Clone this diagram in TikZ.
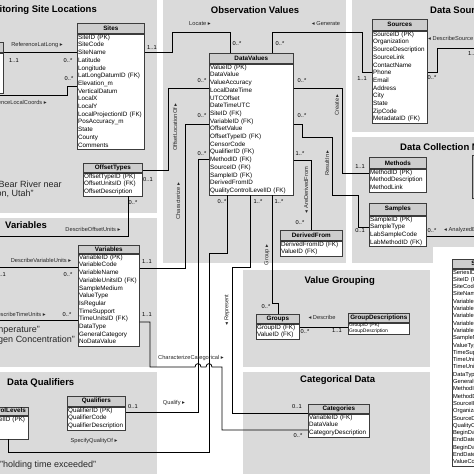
\documentclass[tikz,border=0pt]{standalone}
\usepackage{fontspec}
\setmainfont{Liberation Sans}
\newfontfamily\symf{DejaVu Sans}
\definecolor{panelc}{RGB}{218,218,218}
\definecolor{hdrc}{RGB}{205,205,205}
\definecolor{tline}{RGB}{60,60,60}
\definecolor{lblc}{RGB}{40,40,40}
\newcommand\tbodyf{\fontsize{6.3}{7.7}\selectfont}
\newcommand\thdrf{\bfseries\fontsize{6.3}{7.5}\selectfont}
\newcommand\tcardf{\fontsize{5.7}{6}\selectfont}
\newcommand\tlblf{\fontsize{5.7}{6}\selectfont}
\newcommand\tttlf{\bfseries\fontsize{9.5}{11}\selectfont}
\newcommand\texf{\fontsize{9}{10}\selectfont}
\newcommand\rtri{{\symf ▸}}
\newcommand\ltri{{\symf ◂}}
\newcommand\dbtable[8][]{%
  \node[hdr, minimum width=#5, minimum height=#6] (#2h) at (#3,#4) {#7};
  \node[body, text width=#5-1.6, #1] (#2) at (#2h.south west) {\begin{tabular}{@{}l@{}}#8\end{tabular}};%
}
\begin{document}
\begin{tikzpicture}[x=1pt,y=-1pt,
  hdr/.style={draw=tline, line width=0.6pt, fill=hdrc, font=\thdrf, inner sep=0pt, anchor=north west},
  body/.style={draw=tline, line width=0.6pt, fill=white, font=\tbodyf, inner xsep=0.8pt, inner ysep=0pt, anchor=north west, align=left},
  conn/.style={draw=black, line width=0.8pt},
  card/.style={font=\tcardf, inner sep=0pt},
  lbl/.style={font=\tlblf, inner sep=0pt, text=lblc},
  ttl/.style={font=\tttlf, inner sep=0pt},
  ex/.style={font=\texf, inner sep=0pt, text=black!85}]
\useasboundingbox (0,0) rectangle (474,474);
\clip (0,0) rectangle (474,474);
\fill[white] (0,0) rectangle (474,474);
% panels
\fill[panelc] (0,0) rectangle (157,213);
\fill[panelc] (163,0) rectangle (346,263);
\fill[panelc] (352,0) rectangle (480,132);
\fill[panelc] (352,137) rectangle (480,263);
\fill[white] (433,247) rectangle (480,480);
\fill[panelc] (0,218) rectangle (157,367);
\fill[panelc] (0,372) rectangle (157,480);
\fill[panelc] (243,270) rectangle (430,367);
\fill[panelc] (243,372) rectangle (430,480);
% titles
\node[ttl, anchor=east] at (97,10) {Monitoring Site Locations};
\node[ttl] at (255,10) {Observation Values};
\node[ttl, anchor=west] at (430,10) {Data Sources};
\node[ttl, anchor=west] at (400,147) {Data Collection Methods};
\node[ttl, anchor=west] at (5,225) {Variables};
\node[ttl, anchor=east] at (375,281) {Value Grouping};
\node[ttl, anchor=west] at (7,383) {Data Qualifiers};
\node[ttl, anchor=west] at (300,380) {Categorical Data};
% example texts
\node[ex, anchor=west] at (-26,184) {"Little Bear River near};
\node[ex, anchor=west] at (-26,194) {Mendon, Utah"};
\node[ex, anchor=east] at (40,330) {"Temperature"};
\node[ex, anchor=east] at (75,340) {"Dissolved Oxygen Concentration"};
\node[ex, anchor=west] at (0,465) {"holding time exceeded"};
% tables
\node[hdr, minimum width=30, minimum height=10] (sprefh) at (-27,42) {};
\node[body, minimum width=30, minimum height=40] (spref) at (sprefh.south west) {};
\dbtable{sites}{77}{23}{67}{10}{Sites}{SiteID (PK)\\SiteCode\\SiteName\\Latitude\\Longitude\\LatLongDatumID (FK)\\Elevation\_m\\VerticalDatum\\LocalX\\LocalY\\LocalProjectionID (FK)\\PosAccuracy\_m\\State\\County\\Comments}
\dbtable{dv}{209}{53}{84}{10}{DataValues}{ValueID (PK)\\DataValue\\ValueAccuracy\\LocalDateTime\\UTCOffset\\DateTimeUTC\\SiteID (FK)\\VariableID (FK)\\OffsetValue\\OffsetTypeID (FK)\\CensorCode\\QualifierID (FK)\\MethodID (FK)\\SourceID (FK)\\SampleID (FK)\\DerivedFromID\\QualityControlLevelID (FK)}
\dbtable{src}{372}{19}{55}{11}{Sources}{SourceID (PK)\\Organization\\SourceDescription\\SourceLink\\ContactName\\Phone\\Email\\Address\\City\\State\\ZipCode\\MetadataID (FK)}
\dbtable{meth}{369}{157}{57}{11}{Methods}{MethodID (PK)\\MethodDescription\\MethodLink}
\dbtable{samp}{369}{203}{57}{12}{Samples}{SampleID (PK)\\SampleType\\LabSampleCode\\LabMethodID (FK)}
\dbtable{ot}{83}{163}{59}{9}{OffsetTypes}{OffsetTypeID (PK)\\OffsetUnitsID (FK)\\OffsetDescription}
\dbtable{var}{78}{245}{61}{8}{Variables}{VariableID (PK)\\VariableCode\\VariableName\\VariableUnitsID (FK)\\SampleMedium\\ValueType\\IsRegular\\TimeSupport\\TimeUnitsID (FK)\\DataType\\GeneralCategory\\NoDataValue}
\dbtable{df}{280}{230}{62}{10}{DerivedFrom}{DerivedFromID (FK)\\ValueID (FK)}
\dbtable{grp}{256}{314}{43}{9}{Groups}{GroupID (FK)\\ValueID (FK)}
\dbtable[font=\fontsize{5}{5.8}\selectfont]{gd}{348}{313}{61}{9}{GroupDescriptions}{GroupID (PK)\\GroupDescription}
\dbtable{cat}{308}{404}{61}{9}{Categories}{VariableID (FK)\\DataValue\\CategoryDescription}
\dbtable{qual}{67}{396}{58}{10}{Qualifiers}{QualifierID (PK)\\QualifierCode\\QualifierDescription}
\node[hdr, minimum width=80, minimum height=8] (qclh) at (-52,407) {};
\node[font=\thdrf, inner sep=0pt, anchor=east] at (26,411) {QualityControlLevels};
\node[body, text width=78.4] (qcl) at (qclh.south west) {\begin{tabular}{@{}l@{}}QualityControlLevelID (PK)\\Definition\\Explanation\end{tabular}};
\dbtable[font=\fontsize{5.8}{7.3}\selectfont]{sc}{452}{259}{80}{9}{SeriesCatalog}{SeriesID (PK)\\SiteID (FK)\\SiteCode\\SiteName\\VariableID (FK)\\VariableCode\\VariableName\\VariableUnitsID (FK)\\VariableUnitsName\\SampleMedium\\ValueType\\TimeSupport\\TimeUnitsID (FK)\\TimeUnitsName\\DataType\\GeneralCategory\\MethodID (FK)\\MethodDescription\\SourceID (FK)\\Organization\\SourceDescription\\QualityControlLevelID (FK)\\BeginDateTime\\EndDateTime\\BeginDateTimeUTC\\EndDateTimeUTC\\ValueCount}
\node[draw=tline, line width=0.6pt, fill=gray!55, minimum width=12, minimum height=43, anchor=north west, inner sep=0pt] (edgebox) at (472,155) {};
% off-image ends
\coordinate (lcEnd) at (-5,95);
\coordinate (dsEnd) at (480,48);
\coordinate (anEnd) at (480,236);
\coordinate (vuEnd) at (-5,267);
\coordinate (tuEnd) at (-5,320);
\coordinate (ouEnd) at (-5,236);
% connectors
\draw[conn] (spref.east |- 0,52) -- (sites.west |- 0,52);
\node[lbl] at (37,45) {ReferenceLatLong \rtri};
\node[card] at (14,61) {1..1};
\node[card] at (68,61) {0..*};
\draw[conn] (lcEnd) -- (67,95) -- (67,86) -- (sites.west |- 0,86);
\node[lbl, anchor=east] at (47,102) {ReferenceLocalCoords \rtri};
\node[card] at (69,79) {0..*};
\draw[conn] (sites.east |- 0,52) -- (172,52) -- (172,32) -- (230,32) -- (dvh.north -| 230,0);
\node[lbl] at (200,24) {Locate \rtri};
\node[card] at (152,48) {1..1};
\node[card] at (237,44) {0..*};
\draw[conn] (dvh.north -| 272,0) -- (272,32) -- (362,32) -- (362,72) -- (src.west |- 0,72);
\node[lbl] at (326,24) {\ltri{} Generate};
\node[card] at (280,44) {0..*};
\node[card] at (362,79) {1..1};
\draw[conn] (src.east |- 0,72) -- (437,72) -- (437,48) -- (dsEnd);
\node[lbl, anchor=west] at (428,38) {\ltri{} DescribeSource};
\node[card] at (432,78) {0..*};
\node[card, anchor=west] at (468,54) {1..1};
\draw[conn] (dv.east |- 0,88) -- (342,88) -- (342,173) -- (meth.west |- 0,173);
\node[lbl, rotate=90] at (337,105) {Create \rtri};
\node[card] at (302,81) {0..*};
\node[card] at (360,167) {1..1};
\draw[conn] (dv.east |- 0,124) -- (302,124) -- (302,137) -- (332,137) -- (332,195) -- (358,195) -- (358,227) -- (samp.west |- 0,227);
\node[lbl, rotate=90] at (327,163) {ResultIn \rtri};
\node[card] at (302,116) {0..*};
\node[card] at (360,231) {0..1};
\draw[conn] (dv.east |- 0,160) -- (311,160) -- (dfh.north -| 311,0);
\node[lbl, rotate=90] at (306,190) {\ltri{} AreDerivedFrom};
\node[card] at (300,154) {1..*};
\node[card] at (300,223) {0..*};
\draw[conn] (dv.west |- 0,88) -- (168,88) -- (168,170) -- (ot.east |- 0,170);
\node[lbl, rotate=90] at (175,127) {OffsetLocationOf \rtri};
\node[card] at (202,81) {0..*};
\node[card] at (148,180) {0..1};
\draw[conn] (dv.west |- 0,124) -- (185,124) -- (185,268) -- (var.east |- 0,268);
\node[lbl, rotate=90] at (178,201) {Characterize \rtri};
\node[card] at (202,116) {0..*};
\node[card] at (147,262) {1..1};
\draw[conn] (dv.west |- 0,159) -- (198,159) -- (198,412) -- (qual.east |- 0,412);
\node[lbl] at (174,403) {Qualify \rtri};
\node[card] at (202,154) {0..*};
\node[card] at (133,407) {0..1};
\draw[conn] (var.east |- 0,322) -- (150,322) -- (150,367) -- (195,367) .. controls (195,362.5) and (201,362.5) .. (201,367) -- (206,367) .. controls (206,362.5) and (212,362.5) .. (212,367) -- (222,367) -- (222,430) -- (cat.west |- 0,430);
\node[lbl] at (191,358) {CharacterizeCategorical \rtri};
\node[card] at (147,315) {1..1};
\node[card] at (298,436) {0..*};
\draw[conn] (qcl.south -| 8,0) -- (8,452) -- (209,452) -- (209,253) -- (227,253) -- (dv.south -| 227,0);
\node[lbl] at (94,441) {SpecifyQualityOf \rtri};
\node[card] at (222,202) {0..*};
\draw[conn] (dv.south -| 250,0) -- (250,267) -- (232,267) -- (232,413) -- (cat.west |- 0,413);
\node[lbl, rotate=90] at (227,310) {\ltri{} Represent};
\node[card] at (258,202) {1..*};
\node[card] at (297,407) {0..1};
\draw[conn] (dv.south -| 272,0) -- (272,303) -- (278,303) -- (grph.north -| 278,0);
\node[lbl, rotate=90] at (267,255) {Group \rtri};
\node[card] at (279,202) {1..*};
\node[card] at (266,307) {0..*};
\draw[conn] (grp.east |- 0,327) -- (gd.west |- 0,327);
\node[lbl] at (322,317) {\ltri{} Describe};
\node[card] at (305,332) {0..*};
\node[card] at (337,331) {1..1};
\draw[conn] (samp.east |- 0,236) -- (anEnd);
\node[card] at (432,231) {0..*};
\node[lbl, anchor=west] at (444,230) {\ltri{} AnalyzedBy};
\draw[conn] (vuEnd) -- (var.west |- 0,267);
\node[lbl] at (41,260) {DescribeVariableUnits \rtri};
\node[card, anchor=east] at (6,275) {1..1};
\node[card] at (68,275) {0..*};
\draw[conn] (tuEnd) -- (var.west |- 0,320);
\node[lbl, anchor=east] at (46,314) {DescribeTimeUnits \rtri};
\node[card] at (67,315) {0..*};
\draw[conn] (ot.south -| 128,0) -- (128,236) -- (ouEnd);
\node[lbl] at (93,229) {DescribeOffsetUnits \rtri};
\node[card] at (133,203) {0..*};
\end{tikzpicture}
\end{document}
